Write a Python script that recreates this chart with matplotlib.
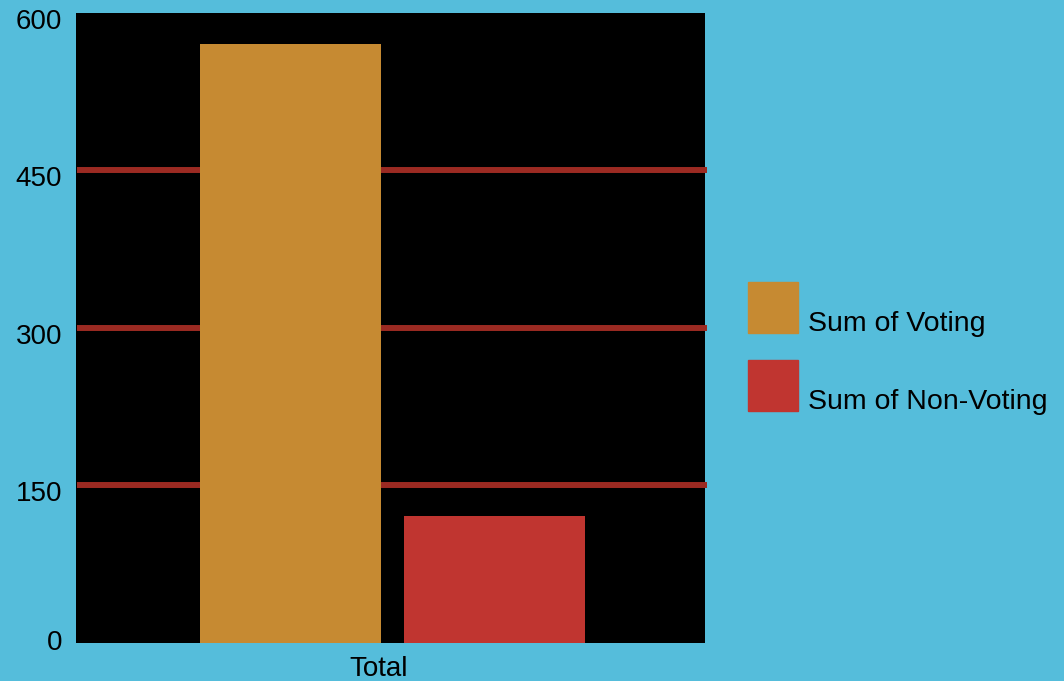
import matplotlib.pyplot as plt
from matplotlib.patches import Rectangle
from matplotlib.transforms import ScaledTranslation

# values per series
series_labels = ['Sum of Voting', 'Sum of Non-Voting']
series_values = [570, 121]
series_colors = ['#C68A32', '#C03530']
category = 'Total'
y_ticks = [0, 150, 300, 450, 600]

bg = '#55BDDB'
grid_color = '#9B2A22'

plt.rcParams['font.family'] = ['Liberation Sans', 'DejaVu Sans']

fig = plt.figure(figsize=(10.64, 6.81), dpi=100, facecolor=bg)
ax = fig.add_axes([0.0714, 0.0565, 0.5912, 0.9244])
ax.set_facecolor('black')

bar_w = 0.36
gap = 0.0457
offsets = [-(bar_w + gap) / 2, (bar_w + gap) / 2]
for off, val, col in zip(offsets, series_values, series_colors):
    ax.bar(off, val, width=bar_w, color=col, zorder=3)

for t in y_ticks[1:-1]:
    ax.axhline(t, xmin=0.002, xmax=1.003, color=grid_color, linewidth=4.3,
               solid_capstyle='butt', zorder=1, clip_on=False)

ax.set_xlim(-0.63, 0.621)
ax.set_ylim(0, 600)
ax.set_yticks(y_ticks)
ax.set_yticklabels([str(t) for t in y_ticks], fontsize=20)
ax.set_xticks([-0.028])
ax.set_xticklabels([category], fontsize=20)
ax.tick_params(axis='y', length=0, pad=10)
ax.tick_params(axis='x', length=0, pad=10)
for s in ax.spines.values():
    s.set_visible(False)

# y labels sit a little below their gridlines, the bottom one a little above
for lab, t in zip(ax.get_yticklabels(), y_ticks):
    dy = 3 if t == 0 else -6
    lab.set_transform(lab.get_transform() + ScaledTranslation(0, dy / 100, fig.dpi_scale_trans))

# legend drawn by hand: square swatch with label sitting at its bottom
W, H = 1064, 681
for i, (lab, col) in enumerate(zip(series_labels, series_colors)):
    top = 282 + i * 78
    fig.add_artist(Rectangle((748 / W, 1 - (top + 51) / H), 50 / W, 51 / H,
                             transform=fig.transFigure, color=col))
    fig.text(808 / W, 1 - (top + 42) / H, lab, fontsize=20.5,
             va='center', ha='left', color='black')

fig.savefig('out.png', dpi=100, facecolor=bg)
